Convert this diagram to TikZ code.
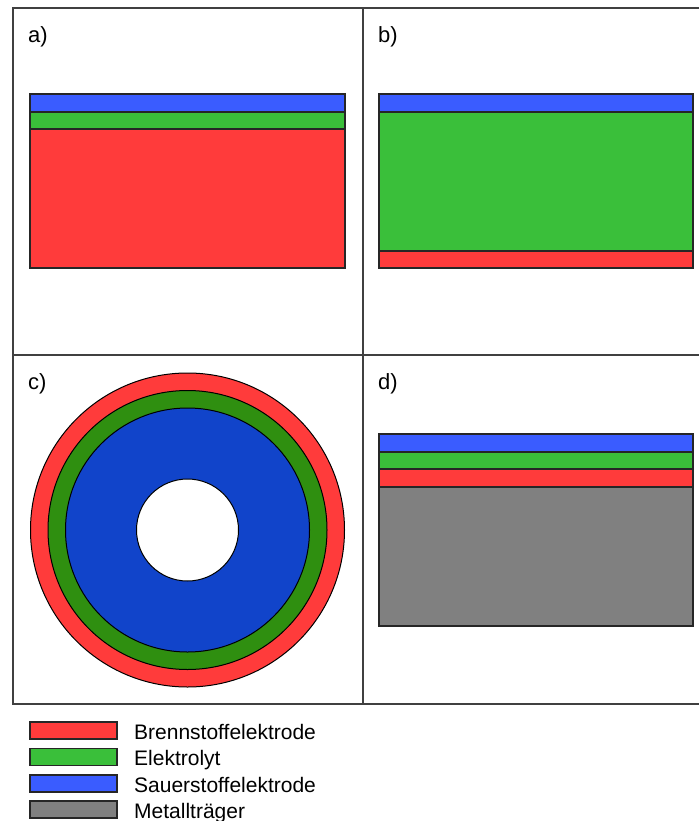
\documentclass[tikz,border=0pt]{standalone}
\usepackage{fontspec}
\setmainfont{Liberation Sans}
\definecolor{fuelred}{HTML}{FF3B3B}
\definecolor{elecgreen}{HTML}{3ABF3A}
\definecolor{oxblue}{HTML}{3A5CFF}
\definecolor{metalgray}{HTML}{808080}
\definecolor{ringgreen}{HTML}{2F8F10}
\definecolor{ringblue}{HTML}{1144CA}
\begin{document}
\begin{tikzpicture}[x=1pt,y=-1pt,
  layer/.style={draw=black!85, line width=1.3pt},
  frameline/.style={draw=black!75, line width=1.4pt},
  ring/.style={draw=black, line width=1pt},
  panellabel/.style={anchor=base west, inner sep=0pt, font=\fontsize{22}{26}\selectfont},
  legendtext/.style={anchor=base west, inner sep=0pt, font=\fontsize{21}{25}\selectfont}]
\useasboundingbox (0,0) rectangle (699,821);

% frame of the four panels
\draw[frameline] (699,8) -- (13,8) -- (13,704) -- (699,704);
\draw[frameline] (363,8) -- (363,704);
\draw[frameline] (13,355) -- (699,355);

% panel a
\node[panellabel] (la) at (28,43) {a)};
\filldraw[layer, fill=fuelred]   (30,129) rectangle (345,268);
\filldraw[layer, fill=elecgreen] (30,112) rectangle (345,129);
\filldraw[layer, fill=oxblue]    (30,94)  rectangle (345,112);

% panel b
\node[panellabel] (lb) at (378,43) {b)};
\filldraw[layer, fill=fuelred]   (379,251) rectangle (693,268);
\filldraw[layer, fill=elecgreen] (379,112) rectangle (693,251);
\filldraw[layer, fill=oxblue]    (379,94)  rectangle (693,112);

% panel c: tubular cell
\node[panellabel] (lc) at (28,389) {c)};
\coordinate (cc) at (187.5,530);
\filldraw[ring, fill=fuelred]   (cc) circle[radius=157];
\filldraw[ring, fill=ringgreen] (cc) circle[radius=139.5];
\filldraw[ring, fill=ringblue]  (cc) circle[radius=122];
\filldraw[ring, fill=white]     (cc) circle[radius=51];

% panel d: metal supported cell
\node[panellabel] (ld) at (378,389) {d)};
\filldraw[layer, fill=metalgray] (379,487) rectangle (693,626);
\filldraw[layer, fill=fuelred]   (379,469) rectangle (693,487);
\filldraw[layer, fill=elecgreen] (379,452) rectangle (693,469);
\filldraw[layer, fill=oxblue]    (379,434) rectangle (693,452);

% legend
\filldraw[layer, fill=fuelred]   (30,722)   rectangle (117,739);
\filldraw[layer, fill=elecgreen] (30,748.5) rectangle (117,765.5);
\filldraw[layer, fill=oxblue]    (30,775)   rectangle (117,792);
\filldraw[layer, fill=metalgray] (30,801)   rectangle (117,818);
\node[legendtext] (t1) at (134,739)   {Brennstoffelektrode};
\node[legendtext] (t2) at (134,765.5) {Elektrolyt};
\node[legendtext] (t3) at (134,792)   {Sauerstoffelektrode};
\node[legendtext] (t4) at (134,818)   {Metallträger};
\end{tikzpicture}
\end{document}
